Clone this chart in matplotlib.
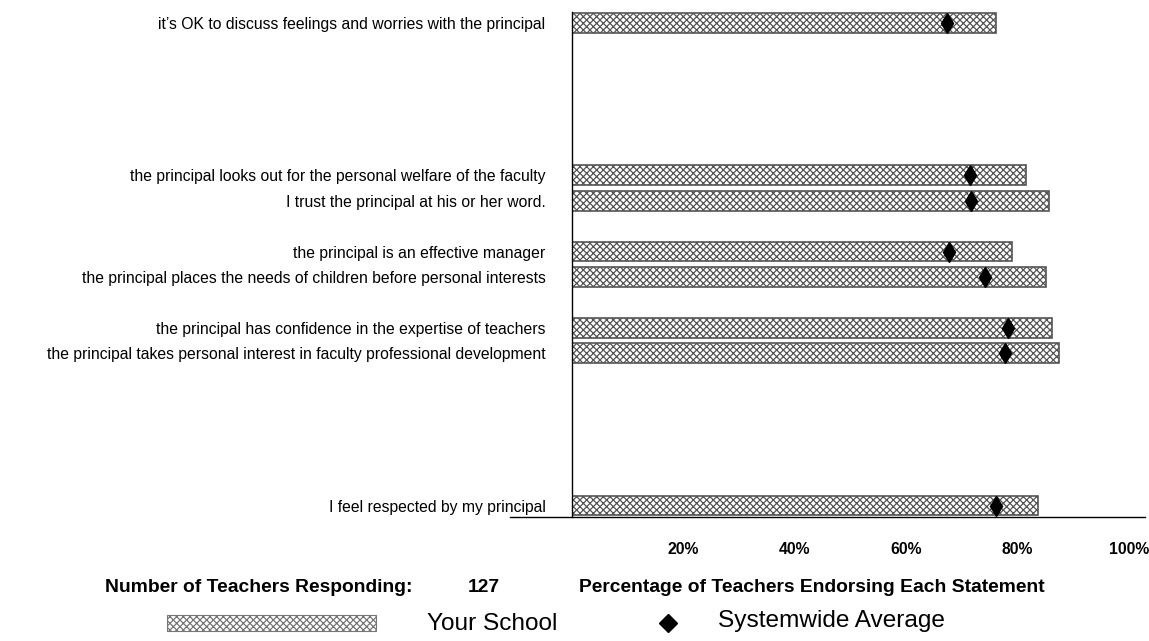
import numpy as np
import matplotlib.pyplot as plt
import matplotlib.font_manager as fm

# statements, top to bottom; empty strings are unused slots in the chart
statements = [
    "it\u2019s OK to discuss feelings and worries with the principal",
    "", "", "", "", "",
    "the principal looks out for the personal welfare of the faculty",
    "I trust the principal at his or her word.",
    "",
    "the principal is an effective manager",
    "the principal places the needs of children before personal interests",
    "",
    "the principal has confidence in the expertise of teachers",
    "the principal takes personal interest in faculty professional development",
    "", "", "", "", "",
    "I feel respected by my principal",
]
school = [76.2, None, None, None, None, None, 81.6, 85.6, None, 79.1, 85.1, None,
          86.2, 87.4, None, None, None, None, None, 83.7]
systemwide = [67.3, None, None, None, None, None, 71.5, 71.7, None, 67.7, 74.1, None,
              78.3, 77.7, None, None, None, None, None, 76.1]
tick_vals = [20, 40, 60, 80, 100]
n_teachers = 127

names = {f.name for f in fm.fontManager.ttflist}
narrow = 'Liberation Sans Narrow' if 'Liberation Sans Narrow' in names else 'Liberation Sans'
plt.rcParams['font.family'] = [narrow, 'DejaVu Sans']
plt.rcParams['hatch.linewidth'] = 0.9
arial = ['Liberation Sans', 'DejaVu Sans']

W, H = 1149, 641
fig = plt.figure(figsize=(W / 100, H / 100), dpi=100)
ax = fig.add_axes([572 / W, 1 - 517 / H, (1145 - 572) / W, 517 / H])

idx = [i for i, v in enumerate(school) if v is not None]
ax.barh(idx, [school[i] for i in idx], height=0.78, color='white',
        edgecolor='#555555', hatch='xxxxx', linewidth=1.2, zorder=2)
ax.plot([systemwide[i] for i in idx], idx, linestyle='none', marker='d',
        markersize=10.5, color='black', zorder=3)

ax.set_xlim(0, 102.9)
ax.set_ylim(19.45, -0.9)
ax.plot([0, 0], [-0.42, 19.45], color='black', linewidth=1, zorder=4, clip_on=False)

for s in ['top', 'right', 'left', 'bottom']:
    ax.spines[s].set_visible(False)

ax.set_yticks(range(len(statements)))
ax.set_yticklabels(statements, fontsize=11.3)
ax.tick_params(axis='y', length=0, pad=19)
ax.set_xticks(tick_vals)
ax.set_xticklabels([f"{v}%" for v in tick_vals], fontsize=11.3, fontweight='bold',
                   family=arial)
ax.tick_params(axis='x', length=0, pad=18)

fig.text(105 / W, 1 - 587 / H, "Number of Teachers Responding:", fontsize=13.9,
         fontweight='bold', va='center', family=arial)
fig.text(468 / W, 1 - 587 / H, str(n_teachers), fontsize=13.9,
         fontweight='bold', va='center', family=arial)
fig.text(579 / W, 1 - 587 / H, "Percentage of Teachers Endorsing Each Statement",
         fontsize=13.9, fontweight='bold', va='center', family=arial)

# overlay in pixel coordinates for the long baseline and the legend row
lax = fig.add_axes([0, 0, 1, 1], facecolor='none')
lax.set_xlim(0, W)
lax.set_ylim(H, 0)
lax.axis('off')
lax.plot([510, 1145], [517, 517], color='black', linewidth=1)
lax.add_patch(plt.Rectangle((167, 615), 209, 16, facecolor='white',
                            edgecolor='#777777', hatch='xxxxx', linewidth=0.8))
lax.text(427, 624, "Your School", fontsize=17.6, va='center', family=arial)
lax.plot([668], [623], marker='D', markersize=9, color='black')
lax.text(718, 621, "Systemwide Average", fontsize=17.6, va='center', family=arial)

fig.savefig('out.png', dpi=100)
